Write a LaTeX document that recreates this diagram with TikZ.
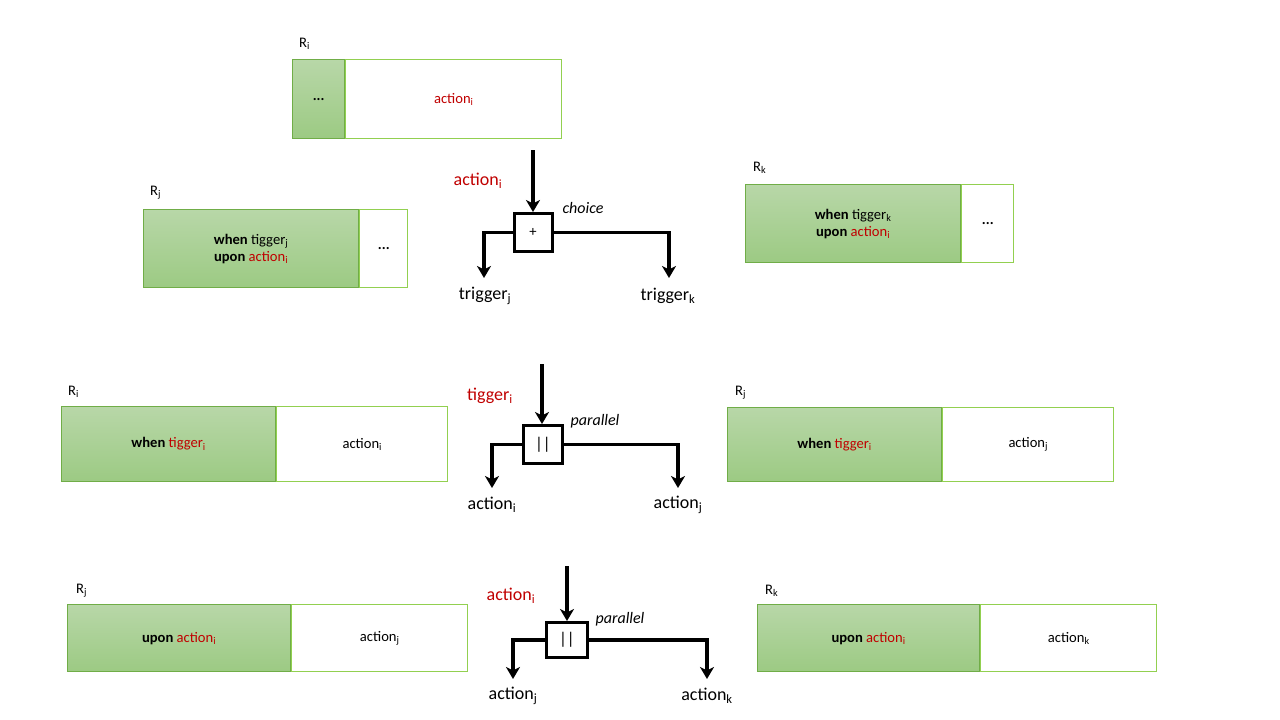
\documentclass[tikz,border=0pt]{standalone}
\usepackage{fontspec}
\setmainfont{Carlito}
\usetikzlibrary{arrows.meta}
\definecolor{ared}{RGB}{192,0,0}
\definecolor{gtop}{RGB}{184,215,168}
\definecolor{gbot}{RGB}{156,202,131}
\definecolor{gborder}{RGB}{112,173,71}
\definecolor{gborderl}{RGB}{146,208,80}
\newcommand{\myfsmall}{\fontsize{14.6}{17}\selectfont}
\newcommand{\myfbig}{\fontsize{18}{21}\selectfont}
\newcommand{\myred}[1]{\textcolor{ared}{#1}}
\begin{document}
\begin{tikzpicture}[x=1pt,y=-1pt,
  gpart/.style={draw=gborder, line width=1.2pt, top color=gtop, bottom color=gbot,
    anchor=north west, inner sep=0pt, align=center, font=\myfsmall},
  wpart/.style={draw=gborderl, line width=1.2pt, fill=white,
    anchor=north west, inner sep=0pt, align=center, font=\myfsmall},
  rlab/.style={anchor=west, inner sep=0pt, font=\myfsmall},
  big/.style={inner sep=0pt, font=\myfbig},
  opname/.style={inner sep=0pt, font=\fontsize{16}{18}\selectfont\itshape},
  opbox/.style={draw, line width=3pt, fill=white, inner sep=0pt},
  conn/.style={line width=3.2pt, -{Stealth[length=12pt,width=14pt,inset=3.5pt]}}]
\useasboundingbox (0,0) rectangle (1280,720);

% ---------- Top row ----------
\node[rlab] (lRi1) at (299,44) {R\textsubscript{i}};
\node[gpart, minimum width=52, minimum height=79] (Ri1a) at (292,59) {\textbf{...}};
\node[wpart, minimum width=216, minimum height=79] (Ri1b) at (Ri1a.north east) {\myred{action\textsubscript{i}}};

\node[rlab] (lRj1) at (150,193) {R\textsubscript{j}};
\node[gpart, minimum width=215, minimum height=78] (Rj1a) at (143,209)
  {\textbf{when} tigger\textsubscript{j}\\\textbf{upon} \myred{action\textsubscript{i}}};
\node[wpart, minimum width=48, minimum height=78] (Rj1b) at (Rj1a.north east) {\textbf{...}};

\node[rlab] (lRk1) at (753,168) {R\textsubscript{k}};
\node[gpart, minimum width=215, minimum height=78] (Rk1a) at (745,184)
  {\textbf{when} tigger\textsubscript{k}\\\textbf{upon} \myred{action\textsubscript{i}}};
\node[wpart, minimum width=52, minimum height=78] (Rk1b) at (Rk1a.north east) {\textbf{...}};

\node[opbox, minimum width=38, minimum height=38, font=\myfsmall] (op1) at (533,232.5) {+};
\coordinate (in1) at (533,150);
\coordinate (out1a) at (484,278);
\coordinate (out1b) at (669,278);
\draw[conn] (in1) -- (op1.north);
\draw[conn] (op1.west) -| (out1a);
\draw[conn] (op1.east) -| (out1b);
\node[big, text=ared] (lin1) at (478,181) {action\textsubscript{i}};
\node[opname] (nop1) at (583,208) {choice};
\node[big] (lo1a) at (485,296) {trigger\textsubscript{j}};
\node[big] (lo1b) at (668,296) {trigger\textsubscript{k}};

% ---------- Middle row ----------
\node[rlab] (lRi2) at (68,392) {R\textsubscript{i}};
\node[gpart, minimum width=214, minimum height=75] (Ri2a) at (61,406)
  {\textbf{when} \myred{tigger\textsubscript{i}}};
\node[wpart, minimum width=171, minimum height=75] (Ri2b) at (Ri2a.north east) {action\textsubscript{i}};

\node[rlab] (lRj2) at (735,393) {R\textsubscript{j}};
\node[gpart, minimum width=214, minimum height=74] (Rj2a) at (727,407)
  {\textbf{when} \myred{tigger\textsubscript{i}}};
\node[wpart, minimum width=171, minimum height=74] (Rj2b) at (Rj2a.north east) {action\textsubscript{j}};

\node[opbox, minimum width=39, minimum height=38, font=\fontsize{17}{19}\selectfont] (op2) at (543,444.5) {||};
\coordinate (in2) at (542,364);
\coordinate (out2a) at (492,488);
\coordinate (out2b) at (678,488);
\draw[conn] (in2) -- (op2.north -| in2);
\draw[conn] (op2.west) -| (out2a);
\draw[conn] (op2.east) -| (out2b);
\node[big, text=ared] (lin2) at (490,396) {tigger\textsubscript{i}};
\node[opname] (nop2) at (595,421) {parallel};
\node[big] (lo2a) at (492,505) {action\textsubscript{i}};
\node[big] (lo2b) at (678,505) {action\textsubscript{j}};

% ---------- Bottom row ----------
\node[rlab] (lRj3) at (76,591) {R\textsubscript{j}};
\node[gpart, minimum width=223, minimum height=67] (Rj3a) at (67,604)
  {\textbf{upon} \myred{action\textsubscript{i}}};
\node[wpart, minimum width=176, minimum height=67] (Rj3b) at (Rj3a.north east) {action\textsubscript{j}};

\node[rlab] (lRk3) at (765,591) {R\textsubscript{k}};
\node[gpart, minimum width=222, minimum height=67] (Rk3a) at (757,604)
  {\textbf{upon} \myred{action\textsubscript{i}}};
\node[wpart, minimum width=176, minimum height=67] (Rk3b) at (Rk3a.north east) {action\textsubscript{k}};

\node[opbox, minimum width=41, minimum height=35, font=\fontsize{17}{19}\selectfont] (op3) at (567,640) {||};
\coordinate (in3) at (567,566);
\coordinate (out3a) at (513,679);
\coordinate (out3b) at (707,679);
\draw[conn] (in3) -- (op3.north);
\draw[conn] (op3.west) -| (out3a);
\draw[conn] (op3.east) -| (out3b);
\node[big, text=ared] (lin3) at (511,596) {action\textsubscript{i}};
\node[opname] (nop3) at (620,619) {parallel};
\node[big] (lo3a) at (513,696) {action\textsubscript{j}};
\node[big] (lo3b) at (707,696) {action\textsubscript{k}};
\end{tikzpicture}
\end{document}
